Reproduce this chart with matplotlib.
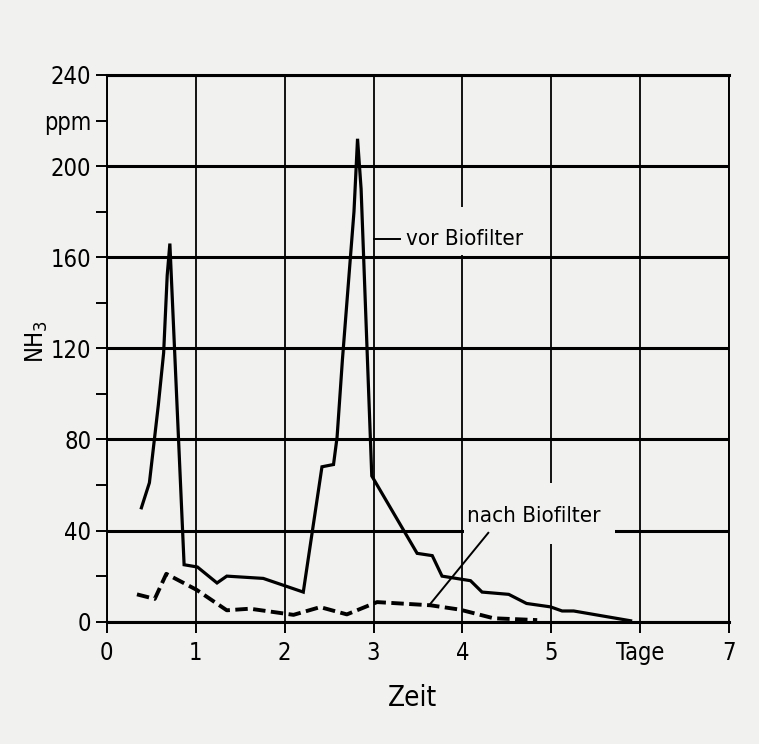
import matplotlib.pyplot as plt
from matplotlib import font_manager
from matplotlib.font_manager import FontProperties
from matplotlib.patches import Rectangle

# NH3-Konzentration vor Biofilter (durchgezogene Linie)
vor_x = [0.39, 0.48, 0.58, 0.64, 0.68, 0.71, 0.87, 1.02, 1.24, 1.35, 1.76, 2.21,
         2.42, 2.55, 2.59, 2.65, 2.78, 2.82, 2.86, 2.98, 3.49, 3.66, 3.77, 4.09,
         4.22, 4.52, 4.72, 4.99, 5.12, 5.25, 5.89]
vor_y = [50, 61, 95, 118, 152, 166, 25, 24, 17, 20, 19, 13,
         68, 69, 81, 115, 180, 212, 190, 64, 30, 29, 20, 18,
         13, 12, 8, 6.5, 4.7, 4.7, 0.4]

# nach Biofilter (gestrichelt)
nach_x = [0.34, 0.54, 0.67, 1.01, 1.35, 1.61, 2.10, 2.40, 2.70, 3.04, 3.64, 3.97, 4.35, 4.84]
nach_y = [12, 10, 21, 14, 5, 5.7, 3, 6.4, 3.2, 8.6, 7.2, 5.3, 1.5, 0.7]

# Achsen
x_ticks = [0, 1, 2, 3, 4, 5, 6, 7]
x_labels = ['0', '1', '2', '3', '4', '5', 'Tage', '7']
y_major = [0, 40, 80, 120, 160, 200, 240]
y_minor = [20, 60, 100, 140, 180, 220]
y_minor_labels = ['', '', '', '', '', 'ppm']

# schmale Schrift suchen, falls vorhanden
pfad = None
for f in font_manager.fontManager.ttflist:
    n = f.fname.lower()
    if ('condensed' in n or 'narrow' in n) and 'bold' not in n and 'oblique' not in n \
            and 'italic' not in n and 'mono' not in n and 'serif' not in n:
        pfad = f.fname
        break


def fp(size):
    if pfad:
        return FontProperties(fname=pfad, size=size)
    return FontProperties(family='DejaVu Sans', stretch='condensed', size=size)


bg = '#f1f1ef'

fig = plt.figure(figsize=(7.59, 7.44), dpi=100, facecolor=bg)
ax = fig.add_axes([0.1406, 0.1644, 0.8203, 0.7348], facecolor=bg)

ax.plot(vor_x, vor_y, color='black', lw=2.3, solid_joinstyle='miter', zorder=4)
ax.plot(nach_x, nach_y, color='black', lw=2.8, linestyle=(0, (3.2, 1.4)), zorder=4)

ax.set_xlim(0, 7)
ax.set_ylim(0, 240)
ax.set_xticks(x_ticks, x_labels)
ax.set_yticks(y_major, [str(v) for v in y_major])
ax.set_yticks(y_minor, y_minor_labels, minor=True)

ax.tick_params(axis='both', which='both', direction='out', width=1.4, color='black', pad=3)
ax.tick_params(axis='y', which='both', length=8)
ax.tick_params(axis='x', length=8, pad=6)
for lbl in ax.get_xticklabels() + ax.get_yticklabels() + ax.get_yticklabels(minor=True):
    lbl.set_fontproperties(fp(17))

ax.grid(axis='y', which='major', color='black', lw=2.2)
ax.grid(axis='x', which='major', color='black', lw=1.3)
ax.set_axisbelow(True)

for s in ['top', 'bottom']:
    ax.spines[s].set_linewidth(2.2)
for s in ['left', 'right']:
    ax.spines[s].set_linewidth(1.4)

# Beschriftungen mit freigestelltem Hintergrund
ax.add_patch(Rectangle((3.32, 161), 1.45, 21, facecolor=bg, edgecolor='none', zorder=2))
ax.plot([3.0, 3.3], [168, 168], color='black', lw=1.4, zorder=3)
ax.text(3.36, 168, 'vor Biofilter', fontproperties=fp(16), va='center', ha='left', zorder=5)

ax.add_patch(Rectangle((4.02, 34), 1.7, 27, facecolor=bg, edgecolor='none', zorder=2))
ax.plot([3.64, 4.29], [7.9, 39], color='black', lw=1.4, zorder=3)
ax.text(4.80, 46.5, 'nach Biofilter', fontproperties=fp(16), va='center', ha='center', zorder=5)

fig.text(37 / 759, 1 - 342 / 744, 'NH$_3$', rotation=90, fontproperties=fp(17),
         ha='center', va='center')
fig.text(412 / 759, 1 - 698 / 744, 'Zeit', fontproperties=fp(20), ha='center', va='center')

fig.savefig('out.png', dpi=100, facecolor=bg)
